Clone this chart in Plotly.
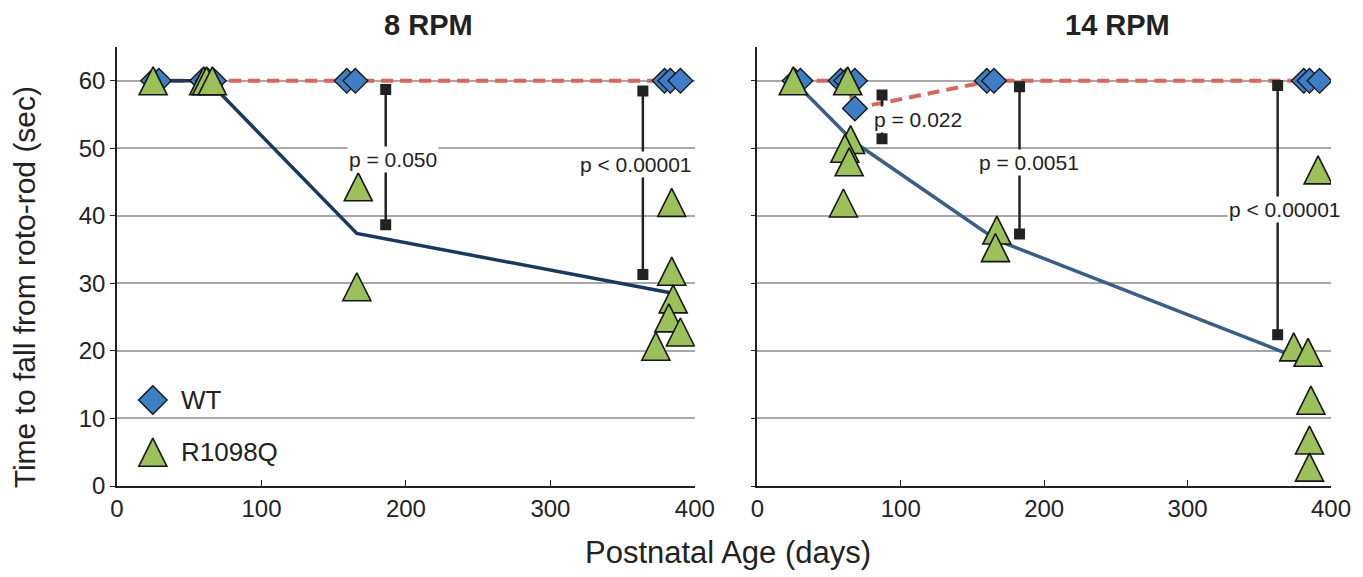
import plotly.graph_objects as go

# ---------------- data ----------------
# 8 RPM panel
wt8_days = [25, 29, 59, 63, 67, 159, 165, 379, 383, 390]
wt8_time = [60, 60, 60, 60, 60, 60, 60, 60, 60, 60]
mut8_days = [25, 60, 62, 66, 167, 166, 384, 384, 385, 382, 390, 373]
mut8_time = [60, 60, 60, 60, 44.3, 29.5, 42.0, 31.8, 27.7, 24.9, 22.8, 20.7]
wt8_mean_days = [25, 63, 162, 385]
wt8_mean_time = [60, 60, 60, 60]
mut8_mean_days = [25, 63, 166, 383]
mut8_mean_time = [60, 60, 37.4, 28.6]
br8_days = [186, 364]
br8_top = [58.7, 58.5]
br8_bottom = [38.7, 31.3]
br8_labels = ["p = 0.050", "p < 0.00001"]
br8_label_days = [191, 359]
br8_label_time = [48.3, 47.6]

# 14 RPM panel
wt14_days = [26, 30, 58, 62, 68, 68, 160, 165, 381, 385, 392]
wt14_time = [60, 60, 60, 60, 60, 55.9, 60, 60, 60, 60, 60]
mut14_days = [25, 63, 65, 61, 64, 60, 167, 166, 391, 374, 384, 386, 385, 385]
mut14_time = [60, 60, 51.3, 50.0, 48.0, 41.9, 37.9, 35.3, 46.8, 20.6, 19.8, 12.7, 6.8, 2.8]
wt14_mean_days = [28, 62, 68, 163, 387]
wt14_mean_time = [60, 60, 55.9, 60, 60]
mut14_mean_days = [25, 67, 167, 367]
mut14_mean_time = [60, 51.0, 36.4, 19.8]
br14_days = [86.9, 182.8, 362.8]
br14_top = [57.9, 59.1, 59.3]
br14_bottom = [51.4, 37.3, 22.4]
br14_labels = ["p = 0.022", "p = 0.0051", "p < 0.00001"]
br14_label_days = [112, 189.7, 368]
br14_label_time = [54.2, 47.9, 41.0]

panel_titles = ["8 RPM", "14 RPM"]
x_ticks = [0, 100, 200, 300, 400]
y_ticks = [0, 10, 20, 30, 40, 50, 60]
series_names = ["WT", "R1098Q"]

# ---------------- style ----------------
FONT = "Arial, Liberation Sans, Helvetica, sans-serif"
WT_FILL = "#3d7ec4"
MUT_FILL = "#9cc05a"
EDGE = "#161616"
RED = "#d8665a"
NAVY_L = "#173a5e"
NAVY_R = "#3a5f86"
BR_COL = "#222222"
TXT = "#222222"
TRI_SIZE = 28
DIA_SIZE = 19

tri_marker = dict(symbol="arrow-down", angle=180, standoff=TRI_SIZE / 2, size=TRI_SIZE,
                  color=MUT_FILL, line=dict(color=EDGE, width=1.6))
dia_marker = dict(symbol="diamond", size=DIA_SIZE, color=WT_FILL,
                  line=dict(color=EDGE, width=1.4))

fig = go.Figure()


def add_panel(xa, ya, wt_d, wt_t, mu_d, mu_t, wm_d, wm_t, mm_d, mm_t, navy,
              b_d, b_top, b_bot, b_lab, b_ld, b_lt):
    fig.add_trace(go.Scatter(x=wm_d, y=wm_t, mode="lines", xaxis=xa, yaxis=ya,
                             line=dict(color=RED, width=4, dash="12px,7px"),
                             showlegend=False, hoverinfo="skip"))
    fig.add_trace(go.Scatter(x=mm_d, y=mm_t, mode="lines", xaxis=xa, yaxis=ya,
                             line=dict(color=navy, width=3.5),
                             showlegend=False, hoverinfo="skip"))
    for d, t, b in zip(b_d, b_top, b_bot):
        fig.add_trace(go.Scatter(x=[d, d], y=[t, b], mode="lines+markers",
                                 xaxis=xa, yaxis=ya,
                                 line=dict(color=BR_COL, width=2.5),
                                 marker=dict(symbol="square", size=11, color=BR_COL),
                                 showlegend=False, hoverinfo="skip"))
    fig.add_trace(go.Scatter(x=wt_d, y=wt_t, mode="markers", xaxis=xa, yaxis=ya,
                             marker=dia_marker, name=series_names[0], showlegend=False))
    fig.add_trace(go.Scatter(x=mu_d, y=mu_t, mode="markers", xaxis=xa, yaxis=ya,
                             marker=tri_marker, name=series_names[1], showlegend=False))
    for lab, ld, lt in zip(b_lab, b_ld, b_lt):
        fig.add_annotation(x=ld, y=lt, xref=xa, yref=ya, text=lab, showarrow=False,
                           xanchor="center", yanchor="middle",
                           font=dict(family=FONT, size=21, color=TXT),
                           bgcolor="white", borderpad=1)


add_panel("x", "y", wt8_days, wt8_time, mut8_days, mut8_time,
          wt8_mean_days, wt8_mean_time, mut8_mean_days, mut8_mean_time, NAVY_L,
          br8_days, br8_top, br8_bottom, br8_labels, br8_label_days, br8_label_time)
add_panel("x2", "y2", wt14_days, wt14_time, mut14_days, mut14_time,
          wt14_mean_days, wt14_mean_time, mut14_mean_days, mut14_mean_time, NAVY_R,
          br14_days, br14_top, br14_bottom, br14_labels, br14_label_days, br14_label_time)

# custom legend (drawn on an invisible overlay axis of the left panel)
fig.add_trace(go.Scatter(x=[0.062], y=[0.196], mode="markers", xaxis="x3", yaxis="y3",
                         marker=dict(dia_marker, size=22), showlegend=False, hoverinfo="skip"))
fig.add_trace(go.Scatter(x=[0.062], y=[0.077], mode="markers", xaxis="x3", yaxis="y3",
                         marker=tri_marker, showlegend=False, hoverinfo="skip"))
for name, yy in zip(series_names, [0.196, 0.077]):
    fig.add_annotation(x=0.108, y=yy, xref="x3", yref="y3", text=name, showarrow=False,
                       xanchor="left", yanchor="middle",
                       font=dict(family=FONT, size=26, color=TXT))

axis_common = dict(range=[0, 400], tickvals=x_ticks, ticks="inside", ticklen=6,
                   tickcolor="#222", showline=True, linecolor="#222", linewidth=1.5,
                   showgrid=False, zeroline=False,
                   tickfont=dict(family=FONT, size=24, color=TXT))
yaxis_common = dict(range=[0, 65], tickvals=y_ticks, ticks="outside", ticklen=5,
                    tickcolor="#222", showline=True, linecolor="#222", linewidth=1.5,
                    showgrid=True, gridcolor="#a8a8a8", gridwidth=2, zeroline=False,
                    tickfont=dict(family=FONT, size=24, color=TXT))

fig.update_layout(
    width=1363, height=577,
    margin=dict(l=117, r=30, t=47, b=91),
    paper_bgcolor="white", plot_bgcolor="white",
    showlegend=False,
    xaxis=dict(axis_common, domain=[0, 0.476], anchor="y"),
    xaxis2=dict(axis_common, domain=[0.5275, 1], anchor="y2"),
    yaxis=dict(yaxis_common, domain=[0, 1], anchor="x"),
    yaxis2=dict(yaxis_common, domain=[0, 1], anchor="x2", showticklabels=False),
    xaxis3=dict(range=[0, 1], visible=False, overlaying="x", anchor="y3"),
    yaxis3=dict(range=[0, 1], visible=False, overlaying="y", anchor="x3"),
)

# panel titles
for t, px in zip(panel_titles, [0.257, 0.824]):
    fig.add_annotation(x=px, y=1.05, xref="paper", yref="paper", text="<b>%s</b>" % t,
                       showarrow=False, font=dict(family=FONT, size=29, color=TXT),
                       xanchor="center", yanchor="middle")
# axis titles
fig.add_annotation(x=0.503, y=-0.1526, xref="paper", yref="paper",
                   text="Postnatal Age (days)", showarrow=False,
                   xanchor="center", yanchor="middle",
                   font=dict(family=FONT, size=31, color=TXT))
fig.add_annotation(x=-0.0765, y=0.453, xref="paper", yref="paper",
                   text="Time to fall from roto-rod (sec)", showarrow=False,
                   textangle=-90, xanchor="center", yanchor="middle",
                   font=dict(family=FONT, size=30, color=TXT))

fig.write_html("out.html")
